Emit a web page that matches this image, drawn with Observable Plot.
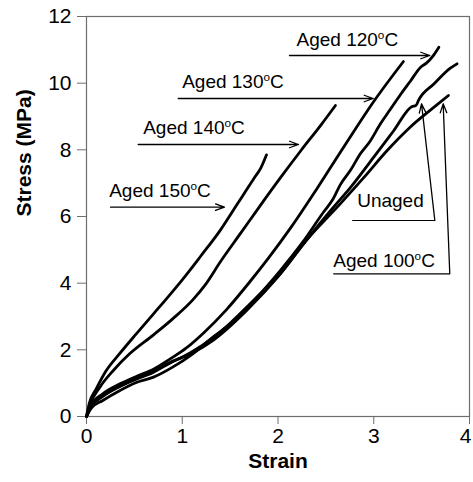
<!DOCTYPE html>
<html><head><meta charset="utf-8">
<script src="https://cdn.jsdelivr.net/npm/d3@7"></script>
<script src="https://cdn.jsdelivr.net/npm/@observablehq/plot@0.6"></script>
<style>body{margin:0;background:#fff;}</style>
</head><body><div id="chart"></div>
<script>
// ---- data ----
const strainTicks = [0, 1, 2, 3, 4];
const stressTicks = [0, 2, 4, 6, 8, 10, 12];
const xTitle = "Strain";
const yTitle = "Stress (MPa)";

const aged150Strain = [0, 0.03, 0.1, 0.2, 0.35, 0.52, 0.7, 0.87, 1.0, 1.19, 1.4, 1.57, 1.66, 1.75, 1.82, 1.88];
const aged150Stress = [0, 0.4, 0.82, 1.35, 1.9, 2.48, 3.08, 3.65, 4.1, 4.8, 5.6, 6.35, 6.75, 7.15, 7.45, 7.85];

const aged140Strain = [0, 0.04, 0.14, 0.28, 0.45, 0.7, 0.9, 1.11, 1.24, 1.4, 1.61, 1.82, 2.03, 2.24, 2.45, 2.6];
const aged140Stress = [0, 0.38, 0.88, 1.38, 1.88, 2.45, 2.93, 3.5, 3.95, 4.65, 5.5, 6.35, 7.18, 7.98, 8.75, 9.33];

const aged130Strain = [0, 0.05, 0.17, 0.35, 0.52, 0.7, 0.87, 1.04, 1.22, 1.46, 1.7, 1.9, 2.13, 2.41, 2.69, 3.0, 3.31];
const aged130Stress = [0, 0.35, 0.68, 0.98, 1.2, 1.42, 1.72, 2.05, 2.5, 3.2, 4.02, 4.75, 5.65, 6.85, 8.1, 9.45, 10.65];

const aged120Strain = [0, 0.05, 0.17, 0.35, 0.52, 0.7, 0.87, 1.09, 1.33, 1.5, 1.68, 1.85, 2.03, 2.25, 2.48, 2.57, 2.65, 2.76, 2.86, 2.96, 3.07, 3.17, 3.28, 3.38, 3.49, 3.55, 3.62, 3.68];
const aged120Stress = [0, 0.3, 0.6, 0.9, 1.12, 1.33, 1.6, 1.92, 2.38, 2.8, 3.3, 3.8, 4.4, 5.2, 6.15, 6.5, 6.95, 7.4, 7.88, 8.25, 8.78, 9.2, 9.66, 10.05, 10.48, 10.6, 10.82, 11.08];

const unagedStrain = [0, 0.05, 0.17, 0.35, 0.52, 0.7, 0.87, 1.09, 1.33, 1.68, 2.03, 2.3, 2.55, 2.76, 3.0, 3.21, 3.4, 3.44, 3.47, 3.63, 3.8, 3.87];
const unagedStress = [0, 0.32, 0.62, 0.92, 1.14, 1.35, 1.62, 1.88, 2.3, 3.2, 4.3, 5.3, 6.18, 6.88, 7.78, 8.58, 9.3, 9.33, 9.5, 9.98, 10.45, 10.58];

const aged100Strain = [0, 0.05, 0.17, 0.35, 0.52, 0.7, 0.9, 1.11, 1.32, 1.46, 1.7, 2.0, 2.3, 2.65, 2.9, 3.14, 3.38, 3.63, 3.78];
const aged100Stress = [0, 0.25, 0.48, 0.78, 1.02, 1.18, 1.48, 1.88, 2.38, 2.68, 3.3, 4.2, 5.3, 6.38, 7.18, 7.98, 8.68, 9.28, 9.63];

const seriesNames = ["Aged 150°C", "Aged 140°C", "Aged 130°C", "Aged 120°C", "Unaged", "Aged 100°C"];
const seriesStrain = [aged150Strain, aged140Strain, aged130Strain, aged120Strain, unagedStrain, aged100Strain];
const seriesStress = [aged150Stress, aged140Stress, aged130Stress, aged120Stress, unagedStress, aged100Stress];

// annotation labels (data coordinates)
const labelText = ["Aged 150°C", "Aged 140°C", "Aged 130°C", "Aged 120°C", "Unaged", "Aged 100°C"];
const labelStrain = [0.237, 0.592, 0.999, 2.193, 2.827, 2.577];
const labelStress = [6.58, 8.475, 9.87, 11.13, 6.30, 4.48];

// arrows: start -> tip
const arrowX1 = [0.251, 0.540, 0.958, 2.120, 3.638, 3.794];
const arrowY1 = [6.28, 8.16, 9.54, 10.83, 5.88, 4.28];
const arrowX2 = [1.441, 2.214, 2.994, 3.585, 3.499, 3.725];
const arrowY2 = [6.28, 8.16, 9.54, 10.83, 9.38, 9.38];

// plain leader segments (no head)
const leaderX1 = [2.775, 2.577];
const leaderX2 = [3.638, 3.794];
const leaderY = [5.88, 4.28];

// ---- tables ----
const rows = seriesNames.flatMap((name, i) =>
  seriesStrain[i].map((s, j) => ({series: name, strain: s, stress: seriesStress[i][j]})));
const labels = labelText.map((t, i) => ({text: t, x: labelStrain[i], y: labelStress[i]}));
const arrows = arrowX1.map((x, i) => ({x1: x, y1: arrowY1[i], x2: arrowX2[i], y2: arrowY2[i]}));
const leaders = leaderX1.map((x, i) => ({x1: x, x2: leaderX2[i], y: leaderY[i]}));

const font = "Arial, 'Liberation Sans', Helvetica, sans-serif";
const axisGray = "#6e6e6e";

const chart = Plot.plot({
  width: 473,
  height: 482,
  marginLeft: 86,
  marginTop: 16,
  marginRight: 4,
  marginBottom: 66,
  style: {fontFamily: font, fontSize: "21px", color: "black", background: "white"},
  x: {domain: [0, 4]},
  y: {domain: [0, 12]},
  marks: [
    Plot.frame({stroke: axisGray, strokeWidth: 1.2}),
    Plot.axisX({ticks: strainTicks, tickFormat: d => String(d), tickSize: 8, tickPadding: 4, stroke: axisGray, fill: "black", label: null, fontSize: 21}),
    Plot.axisY({ticks: stressTicks, tickFormat: d => String(d), tickSize: 9, tickPadding: 6, stroke: axisGray, fill: "black", label: null, fontSize: 21}),
    Plot.line(rows, {x: "strain", y: "stress", z: "series", stroke: "black", strokeWidth: 2.8, curve: "monotone-x", strokeLinecap: "round", strokeLinejoin: "round"}),
    Plot.link(leaders, {x1: "x1", x2: "x2", y1: "y", y2: "y", stroke: "black", strokeWidth: 1.2}),
    Plot.arrow(arrows, {x1: "x1", y1: "y1", x2: "x2", y2: "y2", stroke: "black", strokeWidth: 1.3, headLength: 11, headAngle: 40}),
    Plot.text(labels, {x: "x", y: "y", text: "text", textAnchor: "start", lineAnchor: "bottom", fontSize: 19, fill: "black"}),
    Plot.text([xTitle], {frameAnchor: "bottom", dy: 51, text: d => d, fontSize: 21, fontWeight: "bold", fill: "black"}),
    Plot.text([yTitle], {frameAnchor: "left", dx: -62, rotate: -90, text: d => d, fontSize: 21, fontWeight: "bold", fill: "black"})
  ]
});

// superscript "o" in the °C labels
d3.select(chart).selectAll("text").each(function () {
  if (this.childElementCount === 0 && this.textContent.includes("°C")) {
    const parts = this.textContent.split("°C");
    const sel = d3.select(this);
    sel.text(null);
    sel.append("tspan").text(parts[0]);
    sel.append("tspan").attr("dy", -7).attr("font-size", "0.62em").text("o");
    sel.append("tspan").attr("dy", 7).text("C");
  }
});

// keep the last x tick label inside the picture
d3.select(chart).selectAll("g[aria-label='x-axis tick label'] text")
  .filter(function () { return this.textContent === "4"; })
  .attr("dx", -4);

document.getElementById("chart").appendChild(chart);
</script></body></html>
